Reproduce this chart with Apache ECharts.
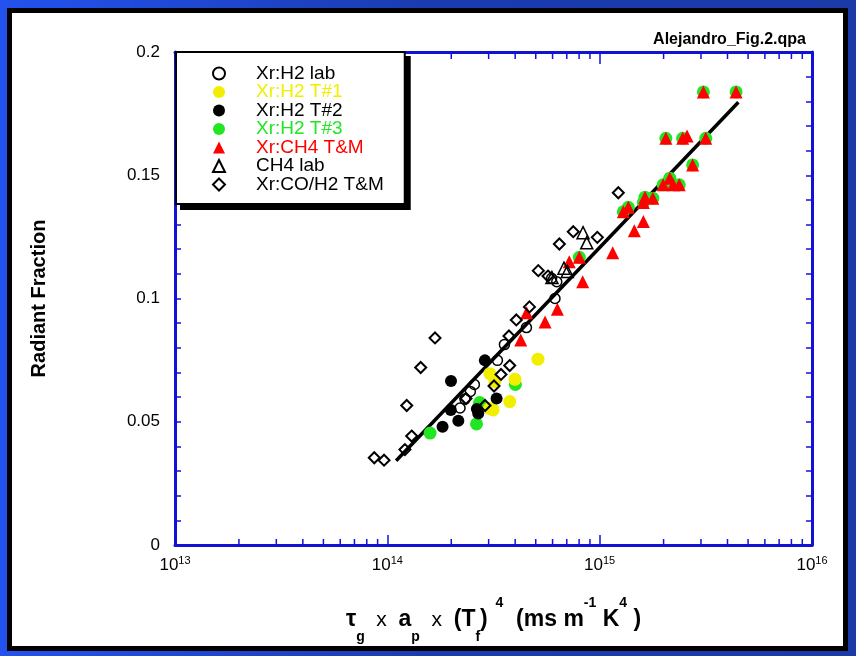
<!DOCTYPE html>
<html>
<head>
<meta charset="utf-8">
<script src="https://cdn.jsdelivr.net/npm/echarts@6/dist/echarts.min.js"></script>
<style>
  html, body { margin: 0; padding: 0; }
  body { width: 856px; height: 656px; background: linear-gradient(90deg, #2352ee 0%, #1b3cb0 50%, #1a3aa8 100%); position: relative; overflow: hidden; }
  #frame { position: absolute; left: 7px; top: 8px; width: 831px; height: 633px; border: 5px solid #000; background: #fff; }
  #chart { position: absolute; left: 0; top: 0; width: 856px; height: 656px; }
</style>
</head>
<body>
<div id="frame"></div>
<div id="chart"></div>
<script>
// ---- data (x = tau_g * a_p * Tf^4, y = radiant fraction) ----
const xrH2Lab = [[2.20e14,0.0556],[2.32e14,0.0592],[2.46e14,0.0623],[2.57e14,0.0651],[3.30e14,0.0749],[3.56e14,0.0813],[4.52e14,0.0882],[6.16e14,0.1000],[6.28e14,0.1068],[5.94e14,0.1082]];
const xrH2T1 = [[3.03e14,0.0554],[3.15e14,0.0548],[3.04e14,0.0695],[3.21e14,0.0663],[3.99e14,0.0672],[3.77e14,0.0582],[5.12e14,0.0754]];
const xrH2T2 = [[1.82e14,0.0480],[1.99e14,0.0548],[1.995e14,0.0665],[2.16e14,0.0504],[2.64e14,0.0552],[2.68e14,0.0533],[2.88e14,0.0749],[3.27e14,0.0594]];
const xrH2T3 = [[1.59e14,0.0454],[2.63e14,0.0491],[2.72e14,0.0578],[4.01e14,0.0651],
  [3.08e15,0.1838],[4.39e15,0.1838],[2.05e15,0.1650],[2.46e15,0.1650],[3.16e15,0.1650],[2.74e15,0.1542],[2.14e15,0.1488],[1.99e15,0.1461],[2.37e15,0.1461],[1.635e15,0.1411],[1.78e15,0.1407],[1.606e15,0.1389],[1.364e15,0.1370],[1.292e15,0.1352],[8.02e14,0.1167]];
const xrCH4TM = [[3.08e15,0.1838],[4.39e15,0.1838],[2.05e15,0.1650],[2.46e15,0.1650],[2.58e15,0.1659],[3.16e15,0.1650],[2.74e15,0.1542],[2.14e15,0.1488],[1.99e15,0.1461],[2.22e15,0.1461],[2.37e15,0.1461],[1.635e15,0.1411],[1.78e15,0.1407],[1.606e15,0.1389],[1.364e15,0.1370],[1.292e15,0.1352],[1.606e15,0.1312],[1.456e15,0.1275],[1.152e15,0.1186],[8.02e14,0.1167],[7.19e14,0.1149],[8.32e14,0.1068],[6.32e14,0.0956],[5.53e14,0.0905],[4.53e14,0.0942],[4.25e14,0.0832]];
const ch4Lab = [[8.35e14,0.1267],[8.69e14,0.1226],[6.79e14,0.1123],[7.04e14,0.1110],[5.96e14,0.1085]];
const xrCOH2TM = [[8.68e13,0.0354],[9.65e13,0.0344],[1.21e14,0.0387],[1.302e14,0.0442],[1.234e14,0.0566],[1.436e14,0.0720],[1.677e14,0.0840],[2.347e14,0.0594],[2.884e14,0.0566],[3.18e14,0.0645],[3.43e14,0.0692],[3.77e14,0.0728],[3.74e14,0.0848],[4.05e14,0.0913],[4.67e14,0.0966],[5.14e14,0.1113],[5.71e14,0.1091],[6.46e14,0.1221],[7.51e14,0.1271],[9.75e14,0.1248],[1.224e15,0.1429]];
const fitLine = [[1.1e14,0.0342],[4.5e15,0.1796]];
const seriesNames = ['Xr:H2 lab','Xr:H2 T#1','Xr:H2 T#2','Xr:H2 T#3','Xr:CH4 T&M','CH4 lab','Xr:CO/H2 T&M'];
const legendColors = ['#000000','#f2ee00','#000000','#22e622','#ff0000','#000000','#000000'];
const minorTickValues = [2e13,3e13,4e13,5e13,6e13,7e13,8e13,9e13,2e14,3e14,4e14,5e14,6e14,7e14,8e14,9e14,2e15,3e15,4e15,5e15,6e15,7e15,8e15,9e15];
const xMin = 1e13, xMax = 1e16, yMin = 0, yMax = 0.2;

const BLUE = '#1212d6';
const FONT = '"Liberation Sans", Arial, sans-serif';

const chart = echarts.init(document.getElementById('chart'), null, {renderer: 'canvas'});

const xLabelFmt = v => '{b|10}{s|' + Math.round(Math.log10(v)) + '}';

const legendCommon = {
  orient: 'vertical',
  padding: [12, 21, 10, 36],
  itemWidth: 12, itemHeight: 12, itemGap: -0.5,
  selectedMode: false
};

const option = {
  backgroundColor: 'transparent',
  animation: false,
  textStyle: { fontFamily: FONT },
  title: {
    text: 'Alejandro_Fig.2.qpa',
    right: 50, top: 32, padding: 0,
    textStyle: { fontSize: 16, fontWeight: 'bold', color: '#000', fontFamily: FONT }
  },
  grid: { left: 175, right: 44, top: 52, bottom: 111, containLabel: false },
  legend: [
    Object.assign({}, legendCommon, {
      left: 181, top: 57, z: 3,
      backgroundColor: '#000', borderColor: '#000', borderWidth: 2,
      itemStyle: { opacity: 0 }, lineStyle: { opacity: 0 },
      data: seriesNames.slice(),
      textStyle: { fontSize: 19, lineHeight: 16, fontFamily: FONT, color: 'rgba(0,0,0,0)', padding: [0, 0, 0, 26] }
    }),
    Object.assign({}, legendCommon, {
      left: 176, top: 52, z: 4,
      backgroundColor: '#fff', borderColor: '#000', borderWidth: 2,
      data: seriesNames.map((n, i) => ({ name: n, textStyle: { color: legendColors[i] } })),
      textStyle: { fontSize: 19, lineHeight: 16, fontFamily: FONT, padding: [0, 0, 0, 26] }
    })
  ],
  xAxis: [{
    type: 'log', logBase: 10, min: xMin, max: xMax, position: 'bottom',
    axisLine: { show: true, onZero: false, lineStyle: { color: BLUE, width: 3 } },
    axisTick: { show: true, inside: true, length: 10, lineStyle: { color: BLUE, width: 1.5 } },
    splitLine: { show: false },
    axisLabel: {
      margin: 10, formatter: xLabelFmt,
      rich: {
        b: { fontSize: 17, color: '#000', fontFamily: FONT, lineHeight: 20 },
        s: { fontSize: 11, color: '#000', fontFamily: FONT, lineHeight: 11, verticalAlign: 'top' }
      }
    },
    name: '{t|τ}{sub|g}{x|  x  }{t|a}{sub|p}{x|  x  }{t|(T}{sub|f}{t|)}{sup|  4}{t|  (ms m}{sup|-1}{t| K}{sup|4}{t| )}',
    nameLocation: 'middle', nameGap: 51,
    nameTextStyle: {
      rich: {
        t: { fontSize: 23, fontWeight: 'bold', color: '#000', fontFamily: FONT, lineHeight: 48 },
        x: { fontSize: 21, color: '#000', fontFamily: FONT, lineHeight: 48 },
        sub: { fontSize: 14, fontWeight: 'bold', color: '#000', fontFamily: FONT, lineHeight: 14, verticalAlign: 'bottom' },
        sup: { fontSize: 14, fontWeight: 'bold', color: '#000', fontFamily: FONT, lineHeight: 20, verticalAlign: 'top' }
      }
    }
  }, {
    type: 'log', logBase: 10, min: xMin, max: xMax, position: 'top',
    axisLine: { show: true, onZero: false, lineStyle: { color: BLUE, width: 3 } },
    axisTick: { show: true, inside: true, length: 12, lineStyle: { color: BLUE, width: 1.5 } },
    axisLabel: { show: false }, splitLine: { show: false }
  }],
  yAxis: [{
    type: 'value', min: yMin, max: yMax, interval: 0.05, position: 'left',
    axisLine: { show: true, onZero: false, lineStyle: { color: BLUE, width: 3 } },
    axisTick: { show: true, inside: true, length: 6, lineStyle: { color: BLUE, width: 1.5 } },
    minorTick: { show: true, splitNumber: 5, length: 6, lineStyle: { color: BLUE, width: 1.5 } },
    splitLine: { show: false },
    axisLabel: { margin: 15, fontSize: 17, color: '#000', fontFamily: FONT },
    name: 'Radiant Fraction', nameLocation: 'middle', nameRotate: 90, nameGap: 126,
    nameTextStyle: { fontSize: 20, fontWeight: 'bold', color: '#000', fontFamily: FONT }
  }, {
    type: 'value', min: yMin, max: yMax, interval: 0.05, position: 'right',
    axisLine: { show: true, onZero: false, lineStyle: { color: BLUE, width: 3 } },
    axisTick: { show: true, inside: true, length: 6, lineStyle: { color: BLUE, width: 1.5 } },
    minorTick: { show: true, splitNumber: 5, length: 6, lineStyle: { color: BLUE, width: 1.5 } },
    axisLabel: { show: false }, splitLine: { show: false }
  }],
  series: [
    {
      type: 'custom', name: 'minorTicks', silent: true, xAxisIndex: 0, yAxisIndex: 0,
      data: minorTickValues.map(v => [v]),
      encode: { x: 0 },
      renderItem: function (params, api) {
        const v = api.value(0);
        const b = api.coord([v, yMin]);
        const t = api.coord([v, yMax]);
        const st = { stroke: BLUE, lineWidth: 1.5 };
        return { type: 'group', children: [
          { type: 'line', shape: { x1: b[0], y1: b[1], x2: b[0], y2: b[1] - 6 }, style: st },
          { type: 'line', shape: { x1: t[0], y1: t[1], x2: t[0], y2: t[1] + 7 }, style: st }
        ]};
      },
      z: 1
    },
    { name: 'Xr:H2 T#3', type: 'scatter', data: xrH2T3, symbol: 'circle', symbolSize: 13,
      itemStyle: { color: '#22e622', opacity: 1 }, z: 2 },
    { name: 'Xr:H2 T#1', type: 'scatter', data: xrH2T1, symbol: 'circle', symbolSize: 13,
      itemStyle: { color: '#f2ee00', opacity: 1 }, z: 2 },
    { name: 'Xr:H2 T#2', type: 'scatter', data: xrH2T2, symbol: 'circle', symbolSize: 12,
      itemStyle: { color: '#000000', opacity: 1 }, z: 2 },
    { name: 'Xr:CH4 T&M', type: 'scatter', data: xrCH4TM, symbol: 'triangle', symbolSize: 13,
      itemStyle: { color: '#ff0000', opacity: 1 }, z: 2 },
    { name: 'Xr:H2 lab', type: 'scatter', data: xrH2Lab, symbol: 'circle', symbolSize: 10,
      itemStyle: { color: 'rgba(255,255,255,0)', borderColor: '#000', borderWidth: 1.5, opacity: 1 }, z: 2 },
    { name: 'CH4 lab', type: 'scatter', data: ch4Lab, symbol: 'triangle', symbolSize: 12,
      itemStyle: { color: 'rgba(255,255,255,0)', borderColor: '#000', borderWidth: 1.5, opacity: 1 }, z: 2 },
    { name: 'Xr:CO/H2 T&M', type: 'scatter', data: xrCOH2TM, symbol: 'diamond', symbolSize: 11,
      itemStyle: { color: 'rgba(255,255,255,0)', borderColor: '#000', borderWidth: 2, opacity: 1 }, z: 2 },
    { name: 'fit', type: 'line', data: fitLine, symbol: 'none', silent: true,
      lineStyle: { color: '#000', width: 3.5 }, z: 2 }
  ]
};
chart.setOption(option);
</script>
</body>
</html>
